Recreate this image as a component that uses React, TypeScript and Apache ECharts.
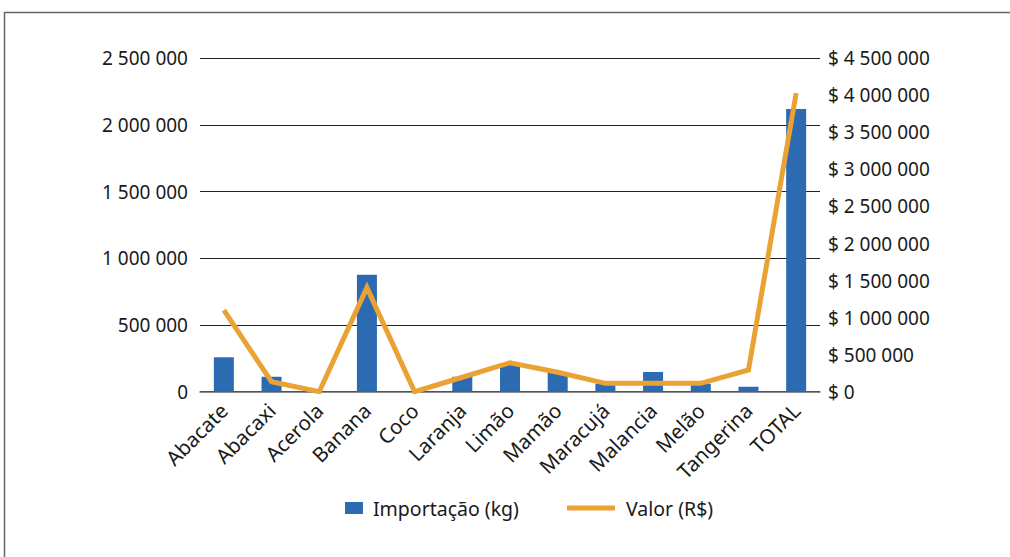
import React, { useEffect, useRef } from "react";
import * as echarts from "echarts";

const categories = ["Abacate", "Abacaxi", "Acerola", "Banana", "Coco", "Laranja", "Limão", "Mamão", "Maracujá", "Malancia", "Melão", "Tangerina", "TOTAL"];
const importacaoKg = [258000, 112000, 0, 877000, 0, 112000, 213000, 145000, 60000, 148000, 60000, 37000, 2120000];
const valorRS = [1100000, 135000, 0, 1405000, 0, 195000, 391000, 262000, 113000, 113000, 113000, 293000, 4030000];
const leftTicks = { min: 0, max: 2500000, interval: 500000 };
const rightTicks = { min: 0, max: 4500000, interval: 500000 };

const fmt = (v: number) => String(Math.round(v)).replace(/\B(?=(\d{3})+(?!\d))/g, " ");

const FONT = "Noto Sans";
const TEXT = "#1a1a1a";

export default function App() {
  const ref = useRef<HTMLDivElement>(null);
  useEffect(() => {
    if (!ref.current) return;
    const chart = echarts.init(ref.current, undefined, { renderer: "svg" });
    chart.setOption({
      animation: false,
      backgroundColor: "#ffffff",
      textStyle: { fontFamily: FONT, color: TEXT },
      graphic: [
        {
          type: "rect",
          shape: { x: 4.5, y: 12.5, width: 1100, height: 700 },
          style: { fill: "none", stroke: "#666666", lineWidth: 1.5 },
          silent: true,
          z: -10,
        },
      ],
      grid: { left: 200, top: 58.3, width: 620, height: 333.4, containLabel: false },
      legend: [
        {
          data: ["Importação (kg)"],
          left: 345,
          top: 498,
          padding: 0,
          icon: "rect",
          itemWidth: 18,
          itemHeight: 12,
          textStyle: { fontFamily: FONT, fontSize: 19.5, color: TEXT, padding: [0, 0, 0, 5] },
        },
        {
          data: ["Valor (R$)"],
          left: 567,
          top: 498,
          padding: 0,
          icon: "rect",
          itemWidth: 48,
          itemHeight: 5,
          textStyle: { fontFamily: FONT, fontSize: 19.5, color: TEXT, padding: [0, 0, 0, 6] },
        },
      ],
      xAxis: {
        type: "category",
        data: categories,
        axisTick: { show: false },
        axisLine: { show: true, lineStyle: { color: "#666666", width: 1.5 } },
        axisLabel: {
          interval: 0,
          rotate: 45,
          margin: 15,
          fontFamily: FONT,
          fontSize: 20.5,
          color: TEXT,
        },
      },
      yAxis: [
        {
          type: "value",
          min: leftTicks.min,
          max: leftTicks.max,
          interval: leftTicks.interval,
          axisLine: { show: false },
          axisTick: { show: false },
          splitLine: { show: true, lineStyle: { color: "#222222", width: 1 } },
          axisLabel: { margin: 12, fontFamily: FONT, fontSize: 19, color: TEXT, formatter: (v: number) => fmt(v) },
        },
        {
          type: "value",
          position: "right",
          min: rightTicks.min,
          max: rightTicks.max,
          interval: rightTicks.interval,
          axisLine: { show: false },
          axisTick: { show: false },
          splitLine: { show: false },
          axisLabel: { margin: 8, fontFamily: FONT, fontSize: 19, color: TEXT, formatter: (v: number) => "$ " + fmt(v) },
        },
      ],
      series: [
        {
          name: "Importação (kg)",
          type: "bar",
          data: importacaoKg,
          barWidth: 20,
          yAxisIndex: 0,
          itemStyle: { color: "#2C6AB2" },
          z: 2,
        },
        {
          name: "Valor (R$)",
          type: "line",
          data: valorRS,
          yAxisIndex: 1,
          symbol: "none",
          itemStyle: { color: "#E9A233" },
          lineStyle: { color: "#E9A233", width: 5, join: "miter", cap: "butt" },
          z: 3,
        },
      ],
    });
    return () => chart.dispose();
  }, []);
  return <div ref={ref} style={{ position: "fixed", left: 0, top: 0, width: 1010, height: 557 }} />;
}
